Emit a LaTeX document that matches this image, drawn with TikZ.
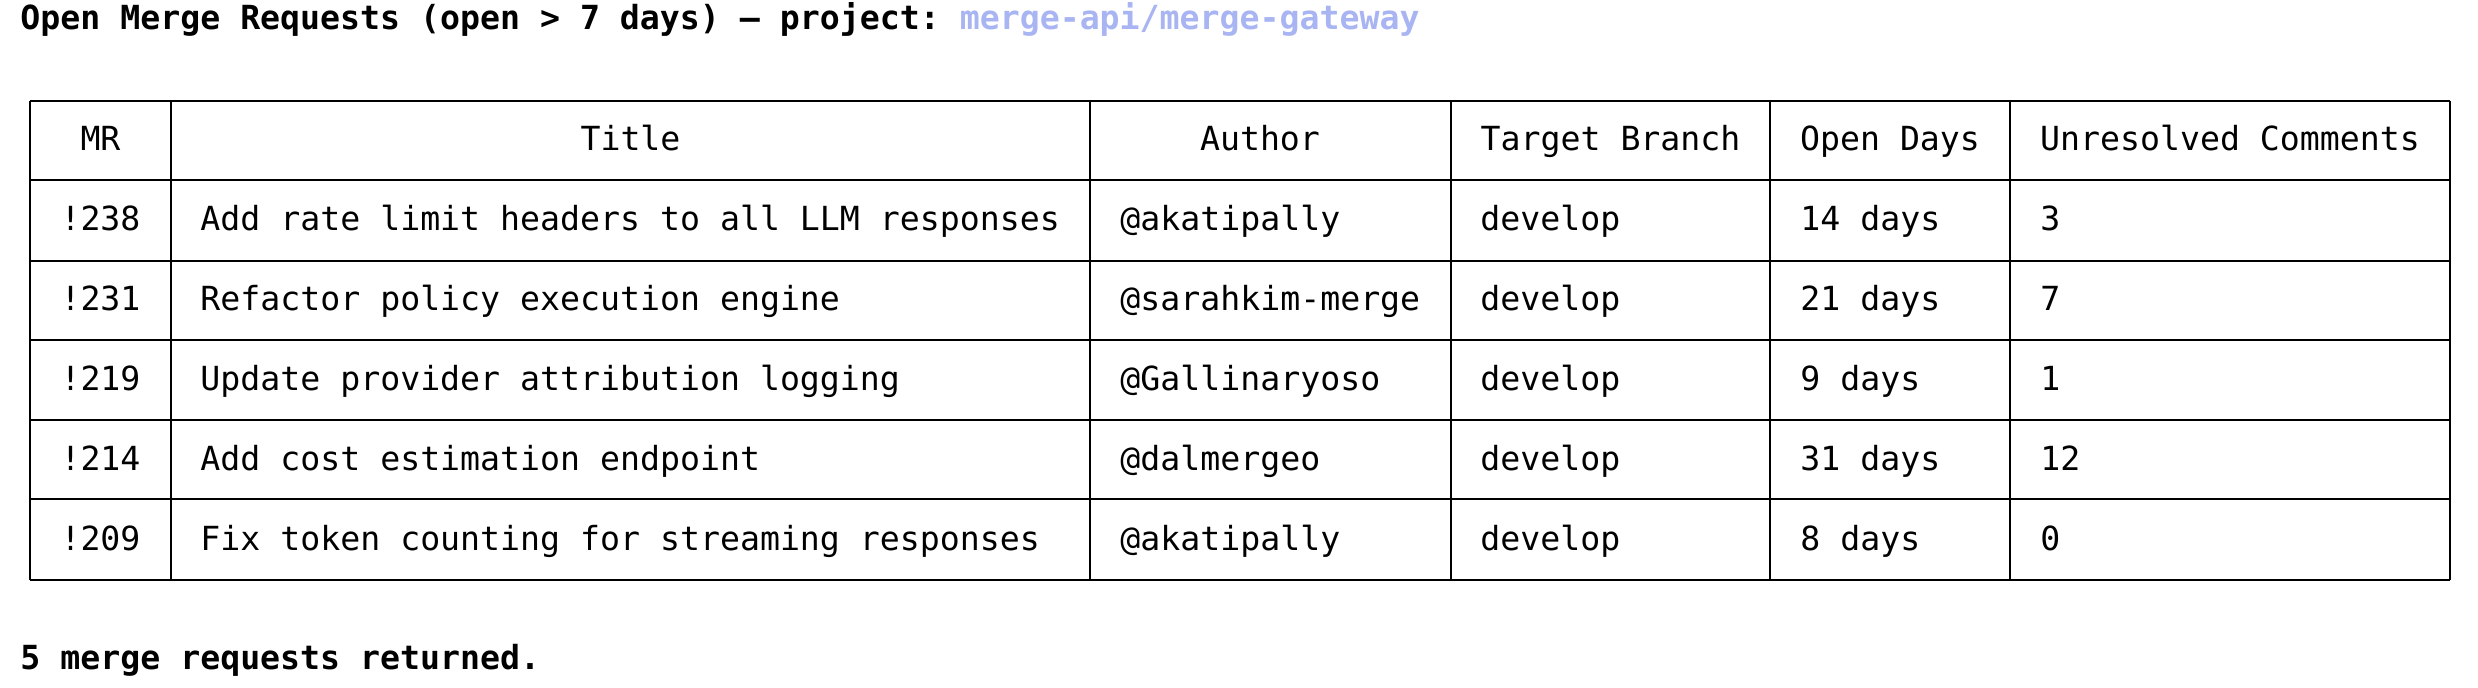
\documentclass[tikz,border=0pt]{standalone}
\usepackage{fontspec}
\setmonofont{DejaVu Sans Mono}
\definecolor{proj}{HTML}{A9B5F2}
\begin{document}
\begin{tikzpicture}[x=1pt,y=1pt,
  txt/.style={inner sep=0pt,font=\ttfamily\fontsize{16.6}{18}\selectfont,anchor=base west},
  ctr/.style={txt,anchor=base},
  bold/.style={txt,font=\ttfamily\bfseries\fontsize{16.6}{18}\selectfont}]
\useasboundingbox (0,0) rectangle (1239,-344);
\node[bold] (title) at (10,-15) {Open Merge Requests (open > 7 days) — project: \textcolor{proj}{merge-api/merge-gateway}};
\def\cols{15,85.5,545,725.5,885,1005,1225}
\def\rows{50.5,90,130.5,170,210,249.5,290}
\foreach \x in \cols \draw[line width=1.1pt] (\x,-50.5) -- (\x,-290);
\foreach \y in \rows \draw[line width=1.1pt] (15,-\y) -- (1225,-\y);
% header
\foreach \t/\c [count=\i] in {MR/50.25,Title/315.25,Author/630,Target Branch/805.25,Open Days/945,Unresolved Comments/1115}
  \node[ctr] (h\i) at (\c,-75.5) {\t};
% rows
\foreach \mr/\ti/\au/\od/\uc [count=\r] in {
 !238/Add rate limit headers to all LLM responses/@akatipally/14 days/3,
 !231/Refactor policy execution engine/@sarahkim-merge/21 days/7,
 !219/Update provider attribution logging/@Gallinaryoso/9 days/1,
 !214/Add cost estimation endpoint/@dalmergeo/31 days/12,
 !209/Fix token counting for streaming responses/@akatipally/8 days/0}{
  \pgfmathsetmacro\yy{-75.5-40*\r}
  \node[ctr] (mr\r) at (50.25,\yy) {\mr};
  \node[txt] (ti\r) at (100,\yy) {\ti};
  \node[txt] (au\r) at (560,\yy) {\au};
  \node[txt] (tb\r) at (740,\yy) {develop};
  \node[txt] (od\r) at (900,\yy) {\od};
  \node[txt] (uc\r) at (1020,\yy) {\uc};
}
\node[bold] (foot) at (10,-335) {5 merge requests returned.};
\end{tikzpicture}
\end{document}
